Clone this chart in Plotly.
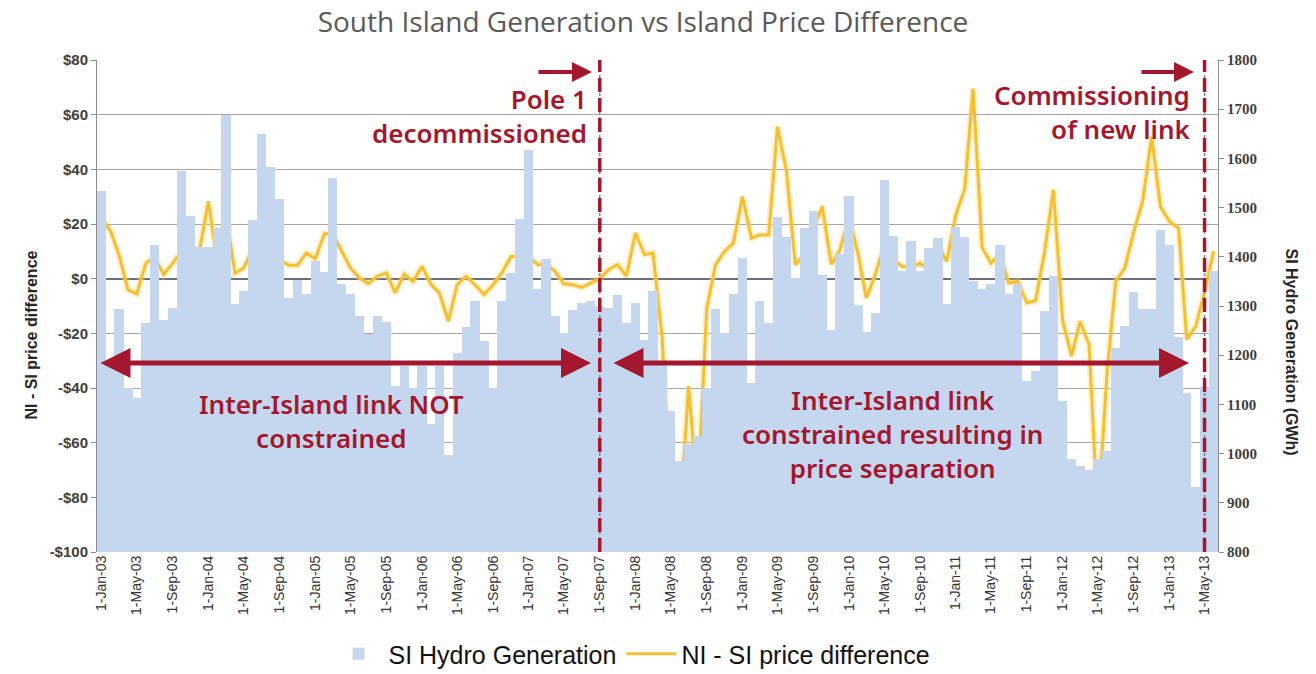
import pandas as pd
import plotly.graph_objects as go

# ---------------- data ----------------
months = pd.date_range("2003-01-01", periods=126, freq="MS")

si_hydro_gwh = [
    1534, 1190, 1294, 1133, 1114, 1266, 1423, 1272, 1295, 1574, 1482, 1420,
    1420, 1458, 1688, 1305, 1330, 1475, 1650, 1583, 1518, 1316, 1352, 1324,
    1392, 1370, 1561, 1344, 1325, 1280, 1244, 1280, 1268, 1138, 1178, 1134,
    1178, 1060, 1178, 998, 1205, 1257, 1310, 1229, 1134, 1310, 1368, 1476,
    1618, 1334, 1395, 1280, 1246, 1291, 1307, 1311, 1300, 1296, 1322, 1265,
    1306, 1231, 1330, 1180, 1087, 985, 1020, 1036, 1134, 1293, 1246, 1325,
    1398, 1143, 1311, 1266, 1480, 1440, 1357, 1459, 1493, 1364, 1251, 1405,
    1523, 1303, 1248, 1286, 1557, 1442, 1371, 1432, 1371, 1418, 1439, 1305,
    1460, 1440, 1350, 1334, 1345, 1424, 1324, 1345, 1148, 1168, 1290, 1360,
    1107, 989, 974, 966, 990, 1006, 1215, 1259, 1329, 1293, 1293, 1455,
    1425, 1236, 1124, 932, 1135, 1371,
]

ni_si_price_diff = [
    22.1, 17.3, 8.8, -4.0, -5.6, 5.7, 7.8, 1.5, 5.7, 10.0, 12.2, 10.0,
    28.2, 5.7, 23.6, 2.0, 3.9, 10.8, 10.6, 7.2, 6.9, 4.9, 4.9, 9.4,
    7.3, 16.4, 16.4, 10.0, 3.9, 0.2, -1.8, 0.9, 2.1, -5.2, 1.7, -1.0,
    4.5, -2.2, -5.2, -15.6, -2.2, 0.9, -2.2, -5.8, -2.2, 2.1, 8.1, 8.1,
    8.1, 5.1, 5.3, 2.7, -1.9, -2.2, -3.2, -1.6, 0.0, 3.3, 5.1, 0.9,
    16.7, 8.8, 9.4, -21.0, -81.5, -89.1, -39.3, -80.2, -11.0, 5.1, 10.0, 13.0,
    30.0, 14.8, 16.0, 16.0, 55.6, 39.1, 5.1, 8.8, 18.5, 26.4, 5.3, 10.6,
    22.7, 8.8, -7.1, 1.5, 12.4, 6.9, 4.5, 4.1, 5.7, 3.3, 12.4, 6.3,
    23.3, 33.0, 69.5, 11.4, 5.7, 8.8, -1.6, -1.0, -8.9, -8.0, 10.0, 32.5,
    -15.0, -28.3, -15.6, -24.1, -87.9, -35.0, -1.0, 3.9, 17.3, 28.2, 51.9, 26.4,
    20.9, 18.5, -22.2, -17.4, -5.0, 10.0,
]

tick_dates = [
    "2003-01-01", "2003-05-01", "2003-09-01", "2004-01-01", "2004-05-01", "2004-09-01",
    "2005-01-01", "2005-05-01", "2005-09-01", "2006-01-01", "2006-05-01", "2006-09-01",
    "2007-01-01", "2007-05-01", "2007-09-01", "2008-01-01", "2008-05-01", "2008-09-01",
    "2009-01-01", "2009-05-01", "2009-09-01", "2010-01-01", "2010-05-01", "2010-09-01",
    "2011-01-01", "2011-05-01", "2011-09-01", "2012-01-01", "2012-05-01", "2012-09-01",
    "2013-01-01", "2013-05-01",
]
tick_labels = [
    "1-Jan-03", "1-May-03", "1-Sep-03", "1-Jan-04", "1-May-04", "1-Sep-04",
    "1-Jan-05", "1-May-05", "1-Sep-05", "1-Jan-06", "1-May-06", "1-Sep-06",
    "1-Jan-07", "1-May-07", "1-Sep-07", "1-Jan-08", "1-May-08", "1-Sep-08",
    "1-Jan-09", "1-May-09", "1-Sep-09", "1-Jan-10", "1-May-10", "1-Sep-10",
    "1-Jan-11", "1-May-11", "1-Sep-11", "1-Jan-12", "1-May-12", "1-Sep-12",
    "1-Jan-13", "1-May-13",
]
left_tick_vals = [-100, -80, -60, -40, -20, 0, 20, 40, 60, 80]
left_tick_text = ["-$100", "-$80", "-$60", "-$40", "-$20", "$0", "$20", "$40", "$60", "$80"]
right_tick_vals = [800, 900, 1000, 1100, 1200, 1300, 1400, 1500, 1600, 1700, 1800]

pole1_date = "2007-09-01"
new_link_date = "2013-05-01"
x_range = ["2002-12-16", "2013-06-16"]

# ---------------- styling helpers ----------------
W, H = 1316, 674
PL, PR, PT, PB = 97, 1218, 60, 552   # plot area in pixels


def px(x):
    return (x - PL) / (PR - PL)


def py(y):
    return (PB - y) / (PB - PT)


RED = "#A3172F"
BAR = "#C5D7EE"
GOLD = "#F4C033"
bar_ms = 31.6 * 24 * 3600 * 1000

fig = go.Figure()

fig.add_trace(go.Bar(
    x=months, y=si_hydro_gwh, name="SI Hydro Generation",
    marker=dict(color=BAR, line=dict(width=0)),
    width=[bar_ms] * len(months),
    yaxis="y2", xaxis="x",
))
fig.add_trace(go.Scatter(
    x=months, y=ni_si_price_diff, mode="lines", showlegend=False,
    line=dict(color="rgba(250,215,110,0.35)", width=7), hoverinfo="skip",
    yaxis="y", xaxis="x",
))
fig.add_trace(go.Scatter(
    x=months, y=ni_si_price_diff, name="NI - SI price difference", mode="lines",
    line=dict(color=GOLD, width=3),
    yaxis="y", xaxis="x",
))

axis_grey = "#8C8C8C"

fig.update_layout(
    width=W, height=H,
    margin=dict(l=PL, r=W - PR, t=PT, b=H - PB, autoexpand=False),
    paper_bgcolor="white", plot_bgcolor="white",
    bargap=0,
    barmode="overlay",
    hovermode=False,
    title=dict(
        text="South Island Generation vs Island Price Difference",
        x=643 / W, y=1 - 22 / H, xanchor="center", yanchor="middle",
        font=dict(family="Open Sans", size=28, color="#595959"),
    ),
    xaxis=dict(
        type="date", range=x_range,
        tickmode="array", tickvals=tick_dates, ticktext=tick_labels,
        tickangle=-90, ticks="", showgrid=False, zeroline=False,
        showline=False, automargin=False,
        tickfont=dict(family="Liberation Sans", size=14, color="#333333"),
    ),
    xaxis2=dict(
        type="date", range=x_range, overlaying="x", anchor="free",
        position=py(278.6), tick0="2002-12-16", dtick="M2",
        ticks="outside", ticklen=5, tickwidth=1.5, tickcolor="#6E6E7A",
        showticklabels=False, showgrid=False, zeroline=False, showline=False,
    ),
    xaxis3=dict(
        type="date", range=x_range, overlaying="x", anchor="free",
        position=py(278.6), tick0="2002-12-16", dtick="M2", side="top",
        ticks="outside", ticklen=4, tickwidth=1.5, tickcolor="#6E6E7A",
        showticklabels=False, showgrid=False, zeroline=False, showline=False,
    ),
    yaxis=dict(
        range=[-100, 80], tickmode="array", tickvals=left_tick_vals,
        ticktext=left_tick_text, automargin=False,
        showgrid=True, gridcolor="#A6A6A6", gridwidth=1.3,
        zeroline=True, zerolinecolor="#6E6E78", zerolinewidth=2,
        showline=True, linecolor=axis_grey, linewidth=1,
        ticks="outside", ticklen=5, tickcolor=axis_grey,
        tickfont=dict(family="Liberation Sans", size=15, color="#404040", weight="bold"),
    ),
    yaxis2=dict(
        range=[800, 1800], tickmode="array", tickvals=right_tick_vals,
        overlaying="y", side="right", showgrid=False, zeroline=False,
        showline=True, linecolor=axis_grey, linewidth=1, automargin=False,
        ticks="outside", ticklen=5, tickcolor=axis_grey,
        tickfont=dict(family="Liberation Serif", size=15, color="#404040", weight="bold"),
    ),
    legend=dict(
        orientation="h", x=px(632), xanchor="center", y=py(654), yanchor="middle",
        font=dict(family="Liberation Sans", size=25, color="#111111"),
        itemwidth=50, bgcolor="rgba(0,0,0,0)",
    ),
    showlegend=True,
)

annotations = []
# axis titles
annotations.append(dict(
    text="NI - SI price difference", xref="paper", yref="paper",
    x=px(20), y=py(335), textangle=-90, showarrow=False,
    font=dict(family="Liberation Sans", size=16, color="#262626", weight="bold"),
))
annotations.append(dict(
    text="SI Hydro Generation (GWh)", xref="paper", yref="paper",
    x=px(1302), y=py(352), textangle=90, showarrow=False,
    font=dict(family="Liberation Sans", size=16, color="#262626", weight="bold"),
))

red_font = dict(family="Noto Sans", size=26, color=RED, weight=600)
# Pole 1 text
annotations.append(dict(text="Pole 1<br>decommissioned", xref="paper", yref="paper",
                        x=px(589), y=py(116), align="right",
                        xanchor="right", yanchor="middle", showarrow=False, font=red_font))
# Commissioning text
annotations.append(dict(text="Commissioning<br>of new link", xref="paper", yref="paper",
                        x=px(1192), y=py(112), align="right",
                        xanchor="right", yanchor="middle", showarrow=False, font=red_font))
# Region texts
annotations.append(dict(text="Inter-Island link NOT<br>constrained", xref="paper", yref="paper",
                        x=px(331), y=py(421), align="center",
                        xanchor="center", yanchor="middle", showarrow=False, font=red_font))
annotations.append(dict(text="Inter-Island link<br>constrained resulting in<br>price separation",
                        xref="paper", yref="paper", x=px(892), y=py(434), align="center",
                        xanchor="center", yanchor="middle", showarrow=False, font=red_font))

# single arrows at top
for x_tail, x_tip in [(537, 592), (1140, 1194)]:
    annotations.append(dict(
        text="", xref="paper", yref="paper", x=px(x_tip), y=py(72),
        axref="pixel", ayref="pixel", ax=-(x_tip - x_tail), ay=0,
        showarrow=True, arrowhead=2, arrowsize=1.0, arrowwidth=4, arrowcolor=RED,
    ))
# double-headed arrows
for x_l, x_r in [(99, 591), (612, 1189)]:
    annotations.append(dict(
        text="", xref="paper", yref="paper", x=px(x_r), y=py(363),
        axref="pixel", ayref="pixel", ax=-(x_r - x_l), ay=0,
        showarrow=True, arrowhead=2, startarrowhead=2, arrowside="end+start",
        arrowsize=1.2, startarrowsize=1.2, arrowwidth=5, arrowcolor=RED,
    ))

fig.update_layout(annotations=annotations)

shapes = []
for d in [pole1_date, new_link_date]:
    shapes.append(dict(type="line", xref="x", yref="paper", x0=d, x1=d, y0=0, y1=1,
                       line=dict(color="#7A8290", width=1.5, dash="dot"), layer="above"))
    shapes.append(dict(type="line", xref="x", yref="paper", x0=d, x1=d, y0=0, y1=1,
                       line=dict(color=RED, width=3.5, dash="14px,6px"), layer="above"))
fig.update_layout(shapes=shapes)

fig.write_html(
    "out.html",
    config={"displayModeBar": False},
    post_script="document.body.style.margin='0px';document.body.style.overflow='hidden';",
)
